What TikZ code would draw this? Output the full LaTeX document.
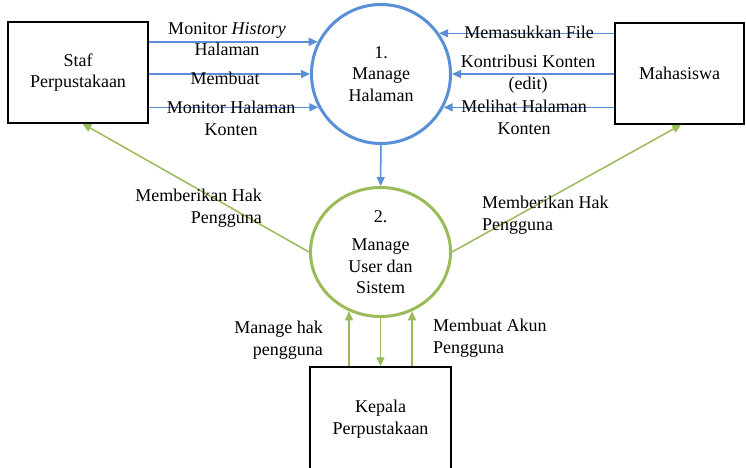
\documentclass[tikz,border=0pt]{standalone}
\usepackage{fontspec}
\setmainfont{Liberation Serif}
\usetikzlibrary{positioning,arrows.meta,shapes}
\definecolor{flowblue}{RGB}{88,143,214}
\definecolor{flowgreen}{RGB}{155,187,89}

\begin{document}
\begin{tikzpicture}[
    x=1pt, y=-1pt,
    font=\fontsize{18}{21.5}\selectfont,
    entity/.style={draw, line width=1.3pt, align=center},
    process/.style={draw, line width=3pt, align=center, inner sep=0pt},
    blueflow/.style={draw=flowblue, line width=1.5pt, -{Triangle[length=9pt,width=8pt]}},
    greenflow/.style={draw=flowgreen, line width=1.5pt, -{Triangle[length=9pt,width=8pt]}},
    lbl/.style={align=center, inner sep=0pt}
]
\useasboundingbox (0,0) rectangle (746,467);
\clip (0,0) rectangle (746,467);

% entitas luar
\node[entity, minimum width=140pt, minimum height=101pt] (staf) at (78,72.5) {Staf\\Perpustakaan};
\node[entity, minimum width=129pt, minimum height=101pt] (mhs) at (679.5,73.5) {Mahasiswa};
\node[entity, minimum width=141pt, minimum height=104pt] (kepala) at (380.5,419) {Kepala\\Perpustakaan};

% proses
\node[process, draw=flowblue, circle, minimum size=139pt] (proc1) at (381,74) {1.\\Manage\\Halaman};
\node[process, draw=flowgreen, ellipse, minimum width=140pt, minimum height=129pt, inner sep=-3pt] (proc2) at (380.5,252) {2.\\[7pt]Manage\\User dan\\Sistem};

% aliran ke proses 1
\draw[blueflow] (staf.east |- proc1.153) -- (proc1.153);
\draw[blueflow] (staf.east |- proc1.west) -- (proc1.west);
\draw[blueflow] (staf.east |- proc1.208) -- (proc1.208);
\draw[blueflow] (mhs.west |- proc1.35) -- (proc1.35);
\draw[blueflow] (mhs.west |- proc1.east) -- (proc1.east);
\draw[blueflow] (mhs.west |- proc1.-28) -- (proc1.-28);
\draw[blueflow] (proc1) -- (proc2);

% aliran proses 2
\draw[greenflow] (proc2.west) -- (staf.-85);
\draw[greenflow] (proc2.east) -- (mhs.-88);
\draw[greenflow] (proc2.-118 |- kepala.north) -- (proc2.-118);
\draw[greenflow] (proc2) -- (kepala);
\draw[greenflow] (proc2.-62 |- kepala.north) -- (proc2.-62);

% label aliran
\node[lbl] (monhist) at (227,39) {Monitor \textit{History}\\Halaman};
\node[lbl] (membuat) at (225,78) {Membuat};
\node[lbl] (monkonten) at (231,118.5) {Monitor Halaman\\Konten};
\node[lbl] (masukfile) at (529,32) {Memasukkan File};
\node[lbl] (kontribusi) at (528,74) {Kontribusi Konten\\(edit)};
\node[lbl] (melihat) at (524,117.5) {Melihat Halaman\\Konten};
\node[lbl, anchor=east, align=right] (hakstaf) at (262,208) {Memberikan Hak\\Pengguna};
\node[lbl, anchor=west, align=left] (hakmhs) at (482,215) {Memberikan Hak\\Pengguna};
\node[lbl, anchor=east, align=right] (manhak) at (323,340) {Manage hak\\pengguna};
\node[lbl, anchor=west, align=left] (akun) at (433,338) {Membuat Akun\\Pengguna};
\end{tikzpicture}
\end{document}
